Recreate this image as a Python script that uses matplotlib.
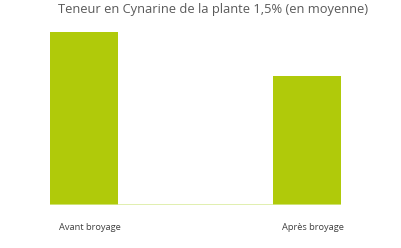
import matplotlib
matplotlib.use("Agg")
import matplotlib.pyplot as plt

categories = ["Avant broyage", "Après broyage"]
values = [1.5, 1.12]
title = "Teneur en Cynarine de la plante 1,5% (en moyenne)"

W, H = 401, 248
fig = plt.figure(figsize=(W / 100, H / 100), dpi=100)
ax = fig.add_axes([50 / W, 43 / H, (341 - 50) / W, (205 - 32) / H])

w = 0.305
x = list(range(len(categories)))
ax.bar(x, values, width=w, color="#b0ca0a", zorder=2)
ax.set_xlim(-w / 2, len(categories) - 1 + w / 2)
ax.set_ylim(0, max(values))
ax.axhline(0, color="#d8ea98", lw=1.8, zorder=3)
for s in ax.spines.values():
    s.set_visible(False)
ax.set_yticks([])
ax.set_xticks([i + 0.025 for i in x])
ax.set_xticklabels(categories, fontsize=6.7, color="#404040", family="Open Sans")
ax.tick_params(axis="x", length=0, pad=13)

fig.text(213 / W, 1 - 9 / H, title, ha="center", va="center", fontsize=9.3,
         color="#595959", family="Open Sans")
fig.savefig("out.png", dpi=100)
